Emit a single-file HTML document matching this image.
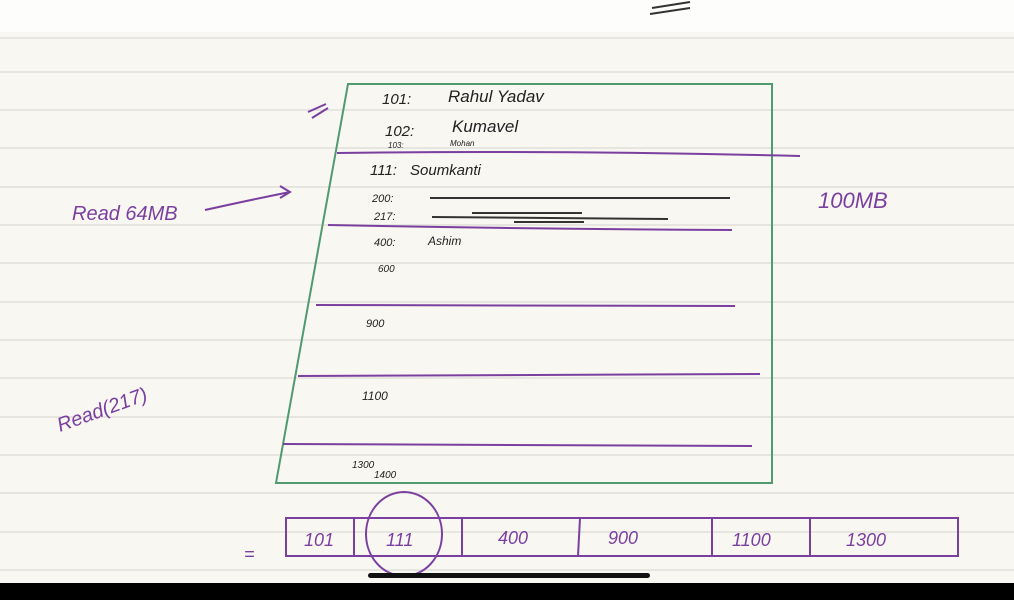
<!DOCTYPE html>
<html><head><meta charset="utf-8"><style>
html,body{margin:0;padding:0;width:1014px;height:600px;overflow:hidden;background:#f8f7f2}
svg{display:block}
text{font-family:"Liberation Sans",sans-serif}
</style></head><body>
<svg width="1014" height="600" viewBox="0 0 1014 600">
<rect x="0" y="0" width="1014" height="600" fill="#f8f7f2"/>
<rect x="0" y="0" width="1014" height="32" fill="#fdfdfc"/>
<g stroke="#e6e5df" stroke-width="2">
<line x1="0" y1="38" x2="1014" y2="38"/><line x1="0" y1="72" x2="1014" y2="72"/><line x1="0" y1="110" x2="1014" y2="110"/>
<line x1="0" y1="148" x2="1014" y2="148"/><line x1="0" y1="187" x2="1014" y2="187"/><line x1="0" y1="225" x2="1014" y2="225"/>
<line x1="0" y1="263" x2="1014" y2="263"/><line x1="0" y1="302" x2="1014" y2="302"/><line x1="0" y1="340" x2="1014" y2="340"/>
<line x1="0" y1="378" x2="1014" y2="378"/><line x1="0" y1="417" x2="1014" y2="417"/><line x1="0" y1="455" x2="1014" y2="455"/>
<line x1="0" y1="493" x2="1014" y2="493"/><line x1="0" y1="532" x2="1014" y2="532"/><line x1="0" y1="570" x2="1014" y2="570"/>
</g>
<path d="M652 8 L690 2 M650 14 L690 8" stroke="#333" stroke-width="2" fill="none"/>
<!-- trapezoid -->
<path d="M348 84 L772 84 L772 483 L276 483 Z" fill="none" stroke="#4f9a6e" stroke-width="2"/>
<g stroke="#7b3fa0" stroke-width="2" fill="none">
<path d="M337 153 Q560 150 800 156"/>
<path d="M328 225 Q530 229 732 230"/>
<path d="M316 305 L735 306"/>
<path d="M298 376 L760 374"/>
<path d="M283 444 L752 446"/>
<path d="M312 118 L328 108 M308 112 L326 104"/>
<path d="M205 210 Q250 200 290 192 M280 186 L290 192 L280 198"/>
</g>
<g stroke="#333" stroke-width="2" fill="none">
<path d="M430 198 L730 198"/><path d="M432 217 L668 219"/><path d="M472 213 L582 213 M514 222 L584 222"/>
</g>
<g fill="#222" font-size="15" font-style="italic">
<text x="382" y="104">101:</text><text x="448" y="102" font-size="17">Rahul Yadav</text>
<text x="385" y="136">102:</text><text x="452" y="132" font-size="17">Kumavel</text>
<text x="388" y="148" font-size="8">103:</text><text x="450" y="146" font-size="8">Mohan</text>
<text x="370" y="175">111:</text><text x="410" y="175">Soumkanti</text>
<text x="372" y="202" font-size="11">200:</text><text x="374" y="220" font-size="11">217:</text>
<text x="374" y="246" font-size="11">400:</text><text x="428" y="245" font-size="12">Ashim</text>
<text x="378" y="272" font-size="10">600</text><text x="366" y="327" font-size="11">900</text>
<text x="362" y="400" font-size="12">1100</text><text x="352" y="468" font-size="10">1300</text><text x="374" y="478" font-size="10">1400</text>
</g>
<g fill="#7b3fa0" font-style="italic">
<text x="72" y="220" font-size="20">Read 64MB</text>
<text x="818" y="208" font-size="22">100MB</text>
<text x="60" y="432" font-size="20" transform="rotate(-20 60 432)">Read(217)</text>
</g>
<!-- index boxes -->
<rect x="286" y="518" width="672" height="38" fill="none" stroke="#7b3fa0" stroke-width="2"/>
<g stroke="#7b3fa0" stroke-width="2"><line x1="354" y1="518" x2="354" y2="556"/><line x1="462" y1="518" x2="462" y2="556"/><line x1="580" y1="518" x2="578" y2="556"/><line x1="712" y1="518" x2="712" y2="556"/><line x1="810" y1="518" x2="810" y2="556"/></g>
<ellipse cx="404" cy="534" rx="38" ry="42" fill="none" stroke="#7b3fa0" stroke-width="2"/>
<g fill="#7b3fa0" font-size="18" font-style="italic">
<text x="304" y="546">101</text><text x="386" y="546">111</text><text x="498" y="544">400</text>
<text x="608" y="544">900</text><text x="732" y="546">1100</text><text x="846" y="546">1300</text>
<text x="244" y="560">=</text>
</g>
<rect x="0" y="583" width="1014" height="17" fill="#000"/>
<rect x="368" y="573" width="282" height="5" rx="2.5" fill="#111"/>
</svg>
</body></html>
